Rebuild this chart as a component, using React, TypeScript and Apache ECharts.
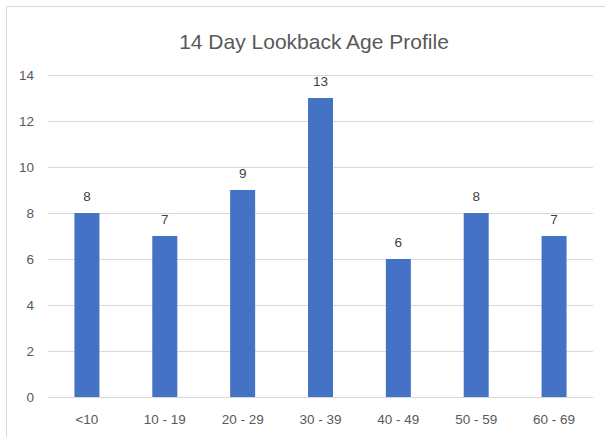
import React, { useEffect, useRef } from "react";
import * as echarts from "echarts";

const categories = ["<10", "10 - 19", "20 - 29", "30 - 39", "40 - 49", "50 - 59", "60 - 69"];
const counts = [8, 7, 9, 13, 6, 8, 7];
const titleText = "14 Day Lookback Age Profile";

export default function App() {
  const ref = useRef<HTMLDivElement>(null);
  useEffect(() => {
    document.body.style.margin = "0";
    const chart = echarts.init(ref.current!, null, { renderer: "svg" });
    const font = "'Liberation Sans', Arial, sans-serif";
    chart.setOption({
      animation: false,
      backgroundColor: "#ffffff",
      textStyle: { fontFamily: font },
      title: {
        text: titleText,
        left: 309,
        textAlign: "center",
        top: 26,
        textStyle: { fontFamily: font, fontSize: 21, fontWeight: "normal", color: "#595959" },
      },
      graphic: [
        { type: "line", shape: { x1: 6.5, y1: 6.5, x2: 605, y2: 6.5 }, style: { stroke: "#D9D9D9", lineWidth: 1 } },
        { type: "line", shape: { x1: 6.5, y1: 6.5, x2: 6.5, y2: 437 }, style: { stroke: "#D9D9D9", lineWidth: 1 } },
      ],
      grid: { left: 48, right: 12, top: 75, bottom: 40, containLabel: false },
      xAxis: {
        type: "category",
        data: categories,
        axisLine: { show: true, lineStyle: { color: "#D9D9D9", width: 1 } },
        axisTick: { show: false },
        axisLabel: { color: "#595959", fontSize: 13.5, margin: 15, fontFamily: font },
      },
      yAxis: {
        type: "value",
        min: 0,
        max: 14,
        interval: 2,
        axisLine: { show: false },
        axisTick: { show: false },
        axisLabel: { color: "#595959", fontSize: 13.5, margin: 14, fontFamily: font },
        splitLine: { lineStyle: { color: "#D9D9D9", width: 1 } },
      },
      series: [
        {
          type: "bar",
          data: counts,
          barWidth: 25,
          itemStyle: { color: "#4472C4" },
          label: { show: true, position: "top", distance: 10, color: "#404040", fontSize: 13.5, fontFamily: font },
        },
      ],
    });
    return () => chart.dispose();
  }, []);
  return <div ref={ref} style={{ width: 605, height: 437 }} />;
}
